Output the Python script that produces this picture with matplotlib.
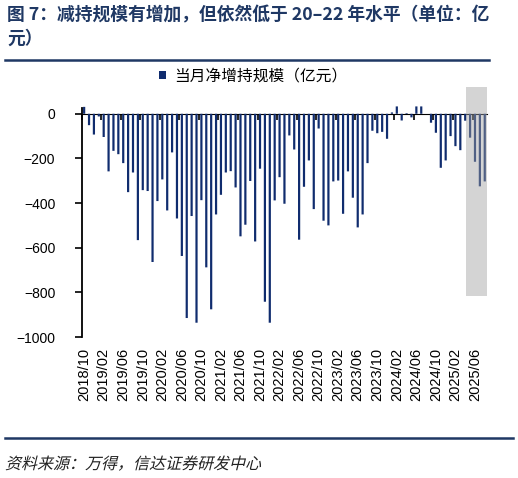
import numpy as np
import pandas as pd
import matplotlib
matplotlib.use("Agg")
import matplotlib.pyplot as plt
from matplotlib.patches import Rectangle, PathPatch
from matplotlib.textpath import TextPath
from matplotlib.font_manager import FontProperties
from matplotlib.transforms import Affine2D

plt.rcParams['font.family'] = ['Liberation Sans', 'Noto Sans CJK SC', 'DejaVu Sans']
plt.rcParams['axes.unicode_minus'] = True

# monthly net change in holdings, 100 mn yuan, 2018/10 .. 2025/08
months = pd.date_range("2018-10-01", "2025-08-01", freq="MS").strftime("%Y/%m").tolist()
net_change = [
    31, -51, -93, -12, -104, -258, -166, -181, -221, -351, -263, -566, -342, -346, -664, -391,
    -294, -433, -173, -469, -637, -915, -458, -936, -387, -688, -876, -451, -363, -263, -257, -330,
    -549, -497, -301, -572, -246, -842, -936, -388, -284, -403, -97, -160, -564, -327, -209, -427,
    -66, -479, -500, -303, -299, -448, -258, -376, -509, -451, -221, -76, -87, -81, -112, 6,
    33, -30, 3, -16, 33, 33, 0, -40, -85, -242, -209, -100, -145, -163, -31, -107,
    -215, -325, -303,
]
legend_label = "当月净增持规模（亿元）"
title_line1 = "图 7：减持规模有增加，但依然低于 20–22 年水平（单位：亿"
title_line2 = "元）"
source_text = "资料来源：万得，信达证券研发中心"
# shaded period: last four months
shade_from, shade_to = 78.2, 82.5
shade_low, shade_high = -818, 119

navy = '#102C6E'
title_col = '#1F3864'

x = np.arange(len(months))

fig = plt.figure(figsize=(5.18, 4.78), dpi=100)
ax = fig.add_axes([81.7 / 518, 1 - 337 / 478, 405.5 / 518, 250 / 478])

ax.bar(x, net_change, width=0.45, color=navy, zorder=2, label=legend_label, snap=False)
ax.add_patch(Rectangle((shade_from, shade_low), shade_to - shade_from, shade_high - shade_low,
                       facecolor='#A0A0A0', alpha=0.45, edgecolor='none', zorder=4, clip_on=False))

ax.set_xlim(-0.5, len(months) - 0.5)
ax.set_ylim(-1000, 120)
ax.set_yticks(np.arange(-1000, 1, 200))
ax.tick_params(axis='y', length=5, width=1.2, pad=14, labelsize=10, color='black')

ax.set_xticks(x[::4])
ax.set_xticklabels(months[::4], rotation=90, fontsize=10.5)
ax.tick_params(axis='x', length=0, pad=8)

for s in ['top', 'right', 'bottom']:
    ax.spines[s].set_visible(False)
ax.spines['left'].set_bounds(-1000, 27)
ax.spines['left'].set_linewidth(1.3)

# zero line carries the category ticks (pointing down)
zero_ax = ax.secondary_xaxis(1000 / 1120)
zero_ax.set_xticks(np.arange(-0.5, len(months), 4))
zero_ax.set_xticklabels([])
zero_ax.tick_params(axis='x', direction='in', length=4, width=1.2, color='black')
zero_ax.spines['bottom'].set_linewidth(1.3)
zero_ax.spines['bottom'].set_zorder(3)

fig.legend(loc='center', bbox_to_anchor=(253 / 518, 1 - 76 / 478), frameon=False,
           handlelength=0.45, handleheight=0.45, handletextpad=0.5,
           prop={'family': ['Noto Sans CJK SC'], 'size': 11.3})

# title, two lines
fig.text(7 / 518, 1 - 15 / 478, title_line1, fontsize=12.8, fontweight='bold', color=title_col,
         family=['Noto Sans CJK SC'], va='center', ha='left')
fig.text(7 / 518, 1 - 38.5 / 478, title_line2, fontsize=12.8, fontweight='bold', color=title_col,
         family=['Noto Sans CJK SC'], va='center', ha='left')

fig.add_artist(plt.Line2D([5 / 518, 489 / 518], [1 - 60 / 478] * 2, color=title_col, lw=1.8))
fig.add_artist(plt.Line2D([5 / 518, 513 / 518], [1 - 437.5 / 478] * 2, color=title_col, lw=1.8))

# source note, slanted like the original
tp = TextPath((0, 0), source_text, size=16, prop=FontProperties(family='Noto Sans CJK SC'))
tr = Affine2D().skew_deg(14, 0).translate(5, 478 - 469)
fig.add_artist(PathPatch(tr.transform_path(tp), facecolor='#222222', edgecolor='none',
                         transform=None))

fig.savefig("out.png", dpi=100)
